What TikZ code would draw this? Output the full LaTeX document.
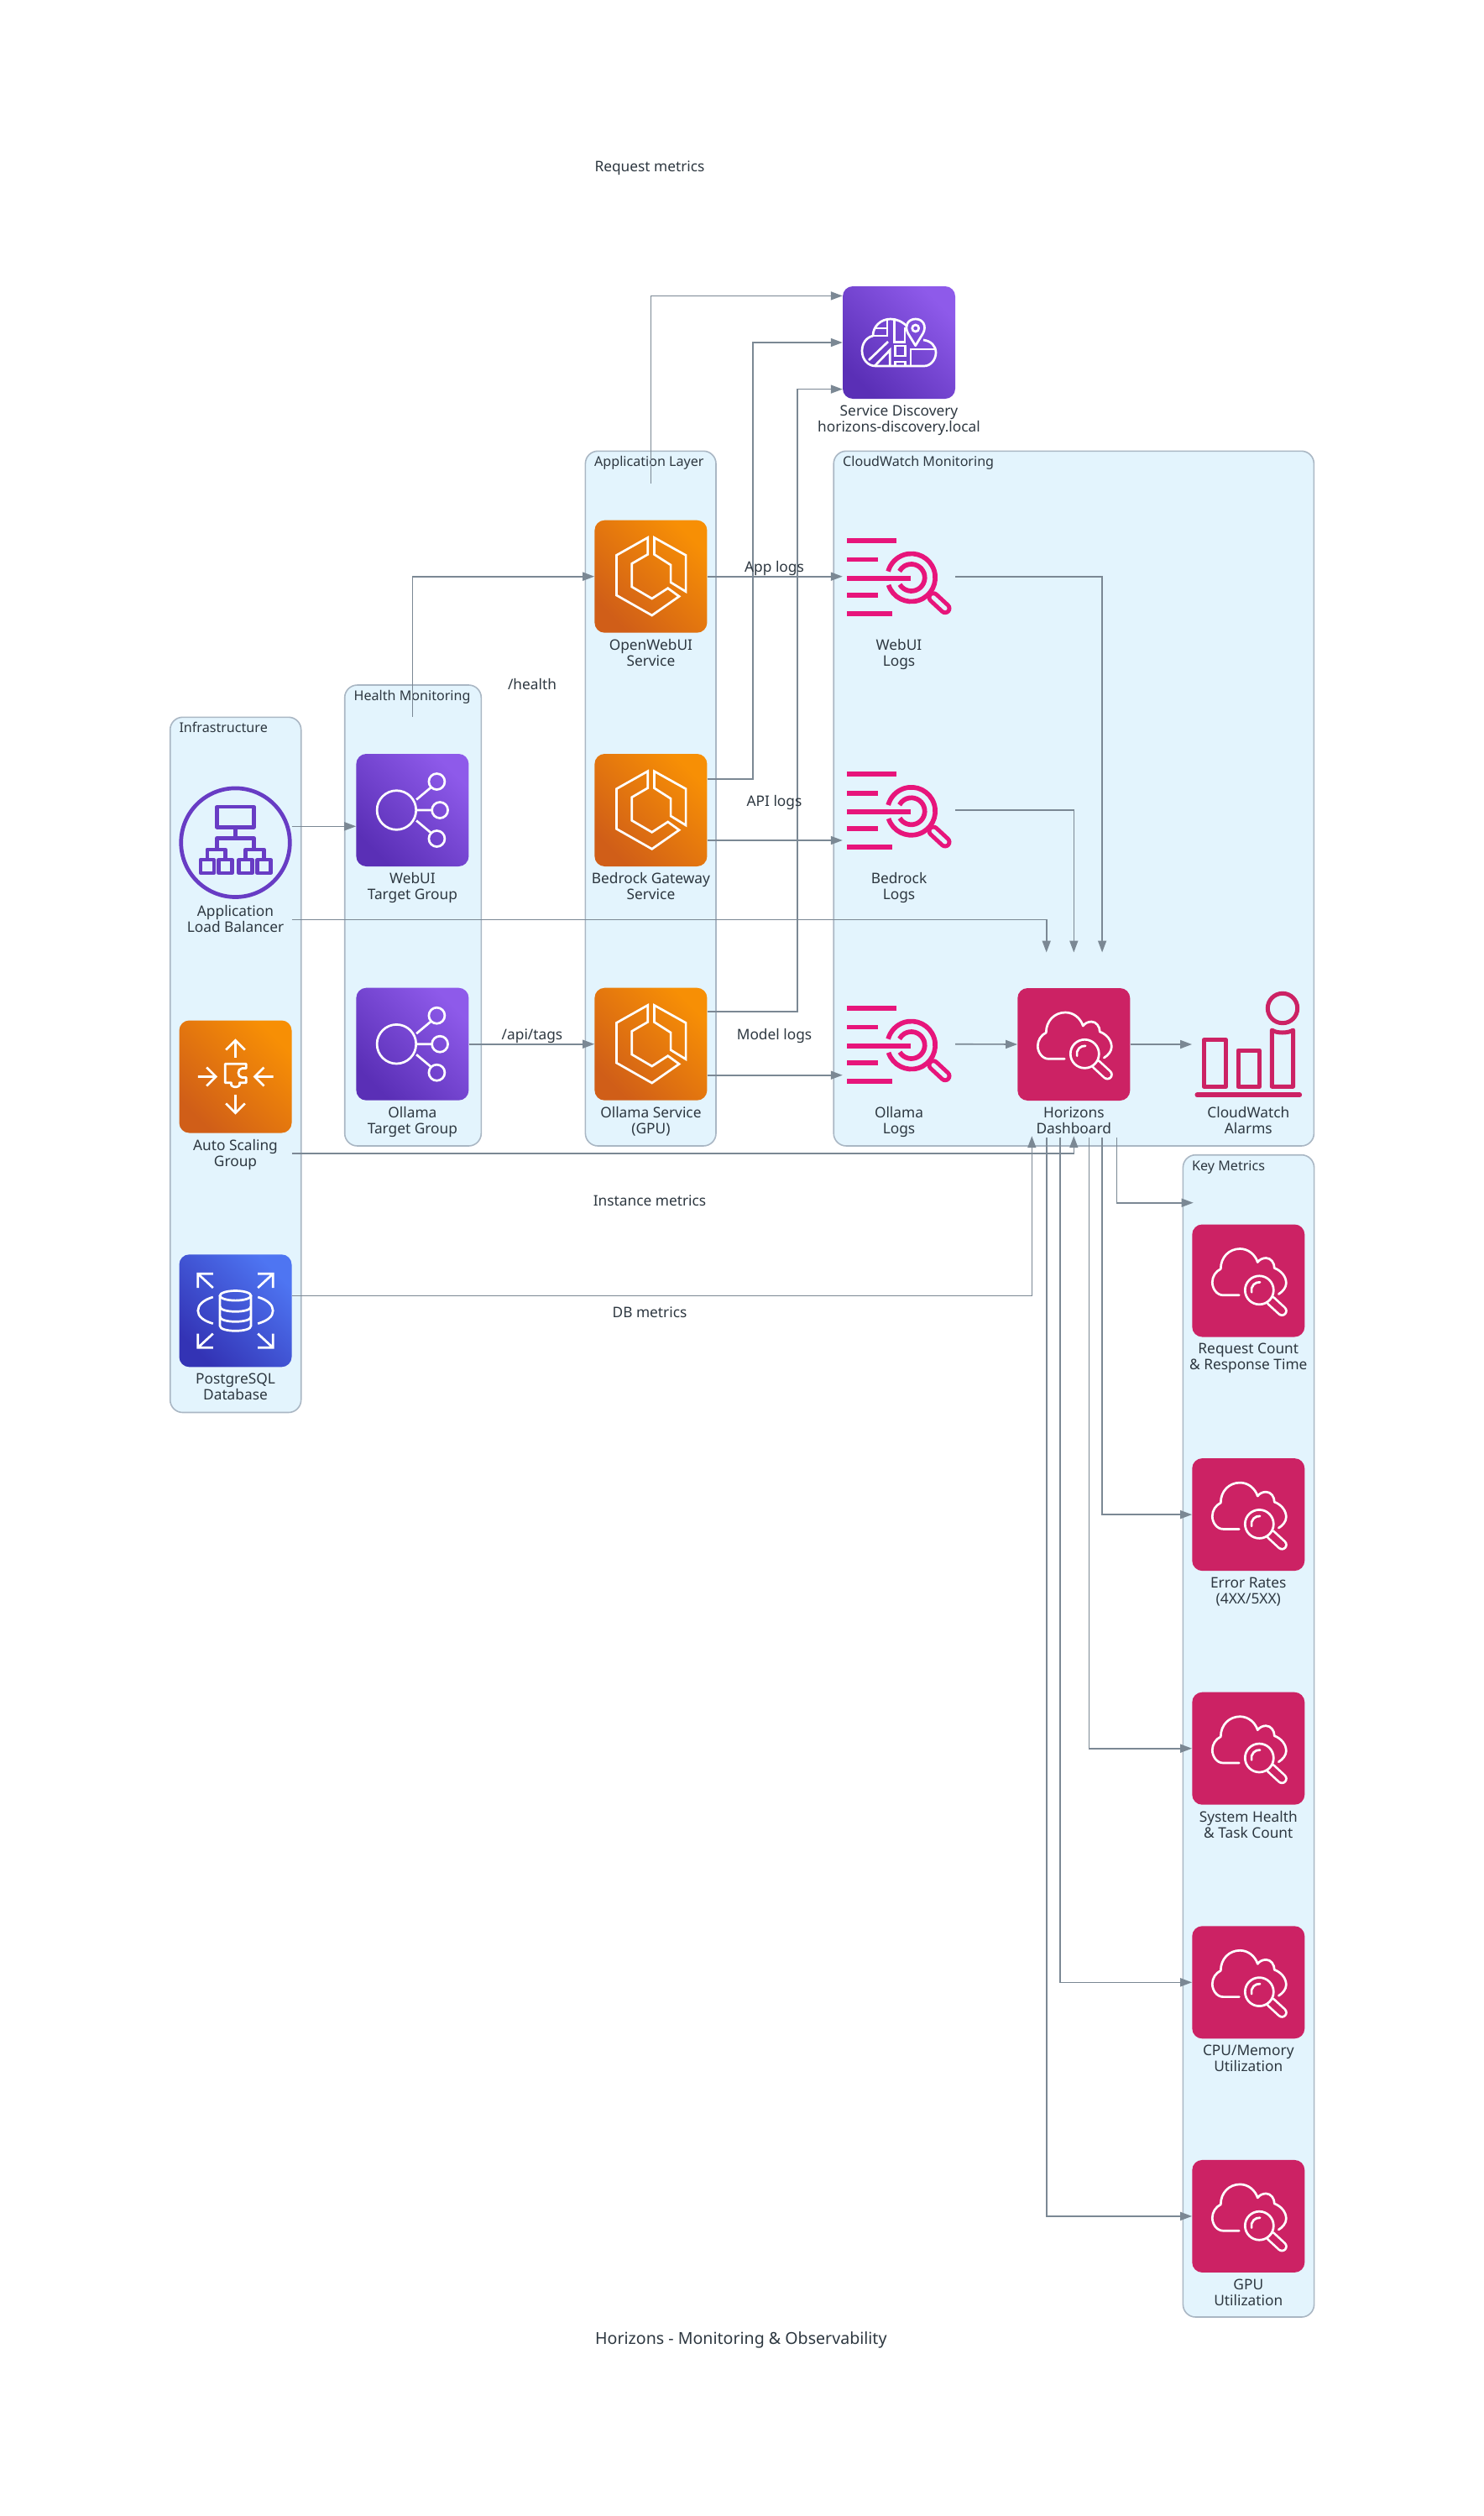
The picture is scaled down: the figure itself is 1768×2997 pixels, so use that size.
\documentclass[tikz,border=0pt]{standalone}
\usepackage{fontspec}
\setmainfont{Noto Sans}
\usetikzlibrary{positioning, arrows.meta, calc}
\definecolor{linkgray}{HTML}{7B8894}
\definecolor{groupfill}{HTML}{E3F4FD}
\definecolor{groupline}{HTML}{AAB7C4}
\definecolor{inktext}{HTML}{2D3740}
\definecolor{purpledark}{HTML}{5A2FB6}
\definecolor{purplelight}{HTML}{8E5AEA}
\definecolor{albpurple}{HTML}{683CC4}
\definecolor{orangedark}{HTML}{D05E18}
\definecolor{orangelight}{HTML}{F78F05}
\definecolor{bluedark}{HTML}{3333B5}
\definecolor{bluelight}{HTML}{4E75F2}
\definecolor{crimson}{HTML}{CC2264}
\definecolor{logpink}{HTML}{E7157B}
\tikzset{
>={Triangle[width=10pt,length=14pt]},
flow/.style={->, draw=linkgray, line width=1.6pt},
groupbox/.style={draw=groupline, fill=groupfill, line width=1.6pt, rounded corners=15pt},
grouptitle/.style={anchor=base west, inner sep=0pt, text=inktext, font=\fontsize{16.1}{19}\selectfont},
iconbox/.style={minimum size=134pt, inner sep=0pt, rounded corners=12pt},
purplebox/.style={iconbox, top color=purplelight, bottom color=purpledark, shading angle=-45},
orangebox/.style={iconbox, top color=orangelight, bottom color=orangedark, shading angle=-45},
bluebox/.style={iconbox, top color=bluelight, bottom color=bluedark, shading angle=-45},
crimsonbox/.style={iconbox, fill=crimson},
iconlabel/.style={inner sep=0pt, align=center, text=inktext, font=\fontsize{17.3}{19}\selectfont},
linklabel/.style={inner sep=0pt, text=inktext, font=\fontsize{17.3}{19}\selectfont},
glyph/.style={draw=white, line width=2.7pt, line join=miter},
pics/hexglyph/.style={code={
    \draw[glyph] (-3.7,-46.3) -- (-41,-25.3) -- (-41,22.3) -- (1.3,46.3) -- (33.7,23.7) -- (20.3,14) -- (1.3,26.3) -- (-22.7,12.3) -- (-22.7,-15.3) -- (-3.7,-26.3) -- cycle;
    \draw[glyph] (4,-46.3) -- (41.7,-25.3) -- (41.7,18) -- (23.7,7) -- (23.7,-13.7) -- (4,-26.3) -- cycle;
}},
pics/targetglyph/.style={code={
    \draw[glyph] (-19,0) circle (23.3pt);
    \draw[glyph] (29,-34) circle (9.5pt) (32.7,0) circle (9.5pt) (29,34) circle (9.5pt);
    \draw[glyph] (4.7,-12.5) -- (22,-27) (4.4,0) -- (23.2,0) (4.7,12.5) -- (22,27);
}},
pics/albglyph/.style={code={
    \draw[draw=albpurple, line width=4.7pt] (0,0) circle (64.8pt);
    \begin{scope}[draw=albpurple, line width=4.2pt, line join=round]
    \draw (-22,-42.7) rectangle (22,-18.3);
    \draw (0,-18.3) -- (0,-5.3) (-22,8) -- (-22,-5.3) -- (22,-5.3) -- (22,8);
    \draw (-33.7,20) -- (-33.7,8) -- (-12,8) -- (-12,20);
    \draw (12,20) -- (12,8) -- (34,8) -- (34,20);
    \draw (-41.7,20.3) rectangle (-25.7,36.3);
    \draw (-20,20.3) rectangle (-4,36.3);
    \draw (4,20.3) rectangle (20,36.3);
    \draw (26,20.3) rectangle (42,36.3);
    \end{scope}
}},
pics/scaleglyph/.style={code={
    \draw[glyph] (0,-22.7) -- (0,-43.3) (-11.3,-32) -- (0,-43.3) -- (11.3,-32);
    \draw[glyph] (0,21.7) -- (0,43.3) (-11.3,32) -- (0,43.3) -- (11.3,32);
    \draw[glyph] (-44.7,0) -- (-23.3,0) (-34.3,-11) -- (-23.3,0) -- (-34.3,11);
    \draw[glyph] (45,0) -- (23,0) (34,-11) -- (23,0) -- (34,11);
    \draw[glyph, line join=round] (-12.3,-15.3) -- (12.7,-15.3) -- (12.7,-10) -- (8,-10) .. controls (2,-10) and (2,1) .. (8,1) -- (12.7,1) -- (12.7,7.3) -- (5,7.3) .. controls (7,14) and (-7,14) .. (-5,7.3) -- (-12.3,7.3) -- cycle;
}},
pics/dbglyph/.style={code={
    \draw[glyph] (-44.7,-27.3) -- (-44.7,-44) -- (-26.7,-44) (-44.7,-44) -- (-26.7,-27.3);
    \draw[glyph] (44.7,-27.3) -- (44.7,-44) -- (26.7,-44) (44.7,-44) -- (26.7,-27.3);
    \draw[glyph] (-44.7,27.3) -- (-44.7,44) -- (-26.7,44) (-44.7,44) -- (-26.7,27.3);
    \draw[glyph] (44.7,27.3) -- (44.7,44) -- (26.7,44) (44.7,44) -- (26.7,27.3);
    \draw[glyph] (-26.7,-16.3) .. controls (-38,-13) and (-44.7,-7) .. (-44.7,0) .. controls (-44.7,7) and (-38,12) .. (-26.7,15.3);
    \draw[glyph] (26.7,-16.3) .. controls (38,-13) and (44.7,-7) .. (44.7,0) .. controls (44.7,7) and (38,12) .. (26.7,15.3);
    \draw[glyph] (0,-18) ellipse (18.5pt and 5.8pt);
    \draw[glyph] (-18.5,-18) -- (-18.5,18) .. controls (-18.5,26) and (18.5,26) .. (18.5,18) -- (18.5,-18);
    \draw[glyph] (-18.5,-5) .. controls (-18.5,3) and (18.5,3) .. (18.5,-5);
    \draw[glyph] (-18.5,7) .. controls (-18.5,15) and (18.5,15) .. (18.5,7);
}},
pics/mapglyph/.style={code={
    \draw[glyph, line join=round] (10,-19) .. controls (4,-25) and (-3,-28) .. (-10,-28) .. controls (-22,-28) and (-31,-19) .. (-31,-8) .. controls (-39,-6) and (-44,1) .. (-44,10) .. controls (-44,20) and (-37,28) .. (-28,28) -- (30,28) .. controls (38,28) and (44,20) .. (44,12) .. controls (44,4) and (38,-2) .. (29,-3);
    \draw[glyph] (-31,-8) -- (-14,-8) -- (-14,-27) (-28,-17) -- (-14,-17);
    \draw[glyph] (-5.3,-27) -- (-5.3,-0.5) -- (7,-0.5) -- (7,-18);
    \draw[glyph] (-36,21) -- (-13,-1);
    \draw[glyph] (-29,28) -- (-10.7,9) -- (-10.7,28);
    \draw[glyph] (-4.7,4) rectangle (7.3,16);
    \draw[glyph] (-4.7,28) -- (-4.7,23) -- (7.3,23) -- (7.3,28);
    \draw[glyph] (14,28) -- (14,8) -- (43,8);
    \draw[glyph, line join=round] (19.7,3.7) -- (10.7,-11) .. controls (6,-20) and (11,-28) .. (19.7,-28) .. controls (28.4,-28) and (33.4,-20) .. (28.7,-11) -- cycle;
    \draw[glyph] (19.7,-17) circle (4pt);
}},
pics/logglyph/.style={code={
    \begin{scope}[draw=logpink, line width=5.7pt]
    \draw (-61.7,-42.7) -- (-2.7,-42.7);
    \draw (-61.7,-20.3) -- (-24.7,-20.3);
    \draw (-61.7,2.3) -- (14.3,2.3);
    \draw (-61.7,22) -- (-24.7,22);
    \draw (-61.7,44.3) -- (-8,44.3);
    \draw (14.7,1.3) ++(198:28.5pt) arc[start angle=198, end angle=525, radius=28.5pt];
    \draw (14.7,1.3) ++(211:16pt) arc[start angle=211, end angle=512, radius=16pt];
    \end{scope}
    \draw[draw=logpink, line width=15pt, line cap=round] (41,25) -- (55,38);
    \draw[draw=groupfill, line width=5pt, line cap=round] (41,25) -- (55,38);
}},
pics/cloudglyph/.style={code={
    \draw[glyph, line join=round, line cap=round] (-11,17.3) -- (-30,17.3) .. controls (-38,17.3) and (-43,9) .. (-43,2) .. controls (-43,-5) and (-39,-11) .. (-33,-14) .. controls (-33,-28) and (-23,-38) .. (-10,-38) .. controls (0,-38) and (8,-31) .. (11,-22) .. controls (13,-25) and (17,-27) .. (21,-27) .. controls (27,-27) and (31,-21) .. (31,-15) .. controls (39,-12) and (45,-5) .. (45,3) .. controls (45,8) and (41,13) .. (36,16);
    \draw[draw=white, line width=13pt, line cap=round] (27,24) -- (40,36);
    \draw[draw=crimson, line width=7.6pt, line cap=round] (27,24) -- (40,36);
    \draw[glyph, fill=crimson] (13,11.3) circle (17pt);
    \draw[glyph, line cap=round] (13,11.3) ++(195:9.5pt) arc[start angle=195, end angle=85, radius=9.5pt];
}},
pics/alarmglyph/.style={code={
    \begin{scope}[draw=crimson, line width=5pt, line join=round]
    \draw (40.7,-43) circle (17.7pt);
    \draw (-53,-5.3) rectangle (-27,50.3);
    \draw (-12.3,7) rectangle (13,50.3);
    \draw (28,-17) .. controls (34,-13) and (47,-13) .. (53.3,-17) -- (53.3,50.3) -- (28,50.3) -- cycle;
    \draw[line width=5.7pt, line cap=round] (-61,60.3) -- (61,60.3);
    \end{scope}
}},
}

\begin{document}
\begin{tikzpicture}[x=1pt, y=-1pt]
    \useasboundingbox (0,0) rectangle (1768,2997);

    % Groups
    \draw[groupbox] (202.7,854.3) rectangle (358.7,1682.5);
    \draw[groupbox] (410.7,816) rectangle (573.3,1365);
    \draw[groupbox] (697.4,537.3) rectangle (853,1365);
    \draw[groupbox] (993.2,537.3) rectangle (1565.4,1365);
    \draw[groupbox] (1409.4,1375.7) rectangle (1565.6,2760);
    \node[grouptitle] (infratitle) at (213.3,872.5) {Infrastructure};
    \node[grouptitle] (healthtitle) at (421.5,834) {Health Monitoring};
    \node[grouptitle] (apptitle) at (708,555.5) {Application Layer};
    \node[grouptitle] (cwtitle) at (1004,555.5) {CloudWatch Monitoring};
    \node[grouptitle] (keytitle) at (1420,1394) {Key Metrics};

    % Infrastructure
    \node[iconbox] (alb) at (280.5,1003.7) {};
    \node[orangebox] (asg) at (280.5,1282.5) {};
    \node[bluebox] (rds) at (280.5,1561.3) {};
    \pic at (alb) {albglyph};
    \pic at (asg) {scaleglyph};
    \pic at (rds) {dbglyph};
    \node[iconlabel, below=7.4pt of alb] (alblabel) {Application\\Load Balancer};
    \node[iconlabel, below=7.4pt of asg] (asglabel) {Auto Scaling\\Group};
    \node[iconlabel, below=7.4pt of rds] (rdslabel) {PostgreSQL\\Database};

    % Target groups
    \node[purplebox] (webuitg) at (491.4,965) {};
    \node[purplebox] (ollamatg) at (491.4,1243.7) {};
    \pic at (webuitg) {targetglyph};
    \pic at (ollamatg) {targetglyph};
    \node[iconlabel, below=7.4pt of webuitg] (webuitglabel) {WebUI\\Target Group};
    \node[iconlabel, below=7.4pt of ollamatg] (ollamatglabel) {Ollama\\Target Group};

    % Services
    \node[orangebox] (openwebui) at (775.4,686.7) {};
    \node[orangebox] (bedrock) at (775.4,965) {};
    \node[orangebox] (ollamasvc) at (775.4,1243.7) {};
    \pic at (openwebui) {hexglyph};
    \pic at (bedrock) {hexglyph};
    \pic at (ollamasvc) {hexglyph};
    \node[iconlabel, below=7.4pt of openwebui] (openwebuilabel) {OpenWebUI\\Service};
    \node[iconlabel, below=7.4pt of bedrock] (bedrocklabel) {Bedrock Gateway\\Service};
    \node[iconlabel, below=7.4pt of ollamasvc] (ollamasvclabel) {Ollama Service\\(GPU)};

    % Service discovery
    \node[purplebox] (discovery) at (1071,408) {};
    \pic at (discovery) {mapglyph};
    \node[iconlabel, below=7.4pt of discovery] (discoverylabel) {Service Discovery\\horizons-discovery.local};

    % CloudWatch
    \node[iconbox] (webuilogs) at (1071,686.7) {};
    \node[iconbox] (bedrocklogs) at (1071,965) {};
    \node[iconbox] (ollamalogs) at (1071,1243.7) {};
    \node[crimsonbox] (dash) at (1279.3,1244) {};
    \node[iconbox] (alarms) at (1487.3,1244) {};
    \pic at (webuilogs) {logglyph};
    \pic at (bedrocklogs) {logglyph};
    \pic at (ollamalogs) {logglyph};
    \pic at (dash) {cloudglyph};
    \pic at (alarms) {alarmglyph};
    \node[iconlabel, below=7.4pt of webuilogs] (webuilogslabel) {WebUI\\Logs};
    \node[iconlabel, below=7.4pt of bedrocklogs] (bedrocklogslabel) {Bedrock\\Logs};
    \node[iconlabel, below=7.4pt of ollamalogs] (ollamalogslabel) {Ollama\\Logs};
    \node[iconlabel, below=7.4pt of dash] (dashlabel) {Horizons\\Dashboard};
    \node[iconlabel, below=7.4pt of alarms] (alarmslabel) {CloudWatch\\Alarms};

    % Key metrics
    \node[crimsonbox] (keyreq) at (1487.3,1525.5) {};
    \node[crimsonbox] (keyerr) at (1487.3,1804.1) {};
    \node[crimsonbox] (keyhealth) at (1487.3,2082.7) {};
    \node[crimsonbox] (keycpu) at (1487.3,2361.3) {};
    \node[crimsonbox] (keygpu) at (1487.3,2639.9) {};
    \pic at (keyreq) {cloudglyph};
    \pic at (keyerr) {cloudglyph};
    \pic at (keyhealth) {cloudglyph};
    \pic at (keycpu) {cloudglyph};
    \pic at (keygpu) {cloudglyph};
    \node[iconlabel, below=7.4pt of keyreq] (keyreqlabel) {Request Count\\\& Response Time};
    \node[iconlabel, below=7.4pt of keyerr] (keyerrlabel) {Error Rates\\(4XX/5XX)};
    \node[iconlabel, below=7.4pt of keyhealth] (keyhealthlabel) {System Health\\\& Task Count};
    \node[iconlabel, below=7.4pt of keycpu] (keycpulabel) {CPU/Memory\\Utilization};
    \node[iconlabel, below=7.4pt of keygpu] (keygpulabel) {GPU\\Utilization};

    % Free ends
    \coordinate (albout) at ([yshift=19.4pt]alb.east);
    \coordinate (albmetric) at ([yshift=-91.6pt]alb.east);
    \coordinate (asgmetric) at ([yshift=-91.2pt]asg.east);
    \coordinate (rdsmetric) at ([yshift=18pt]rds.east);
    \coordinate (webuitgup) at ([yshift=44pt]webuitg.north);
    \coordinate (openwebuiup) at ([yshift=44pt]openwebui.north);
    \coordinate (bedrockup) at ([yshift=37pt]bedrock.east);
    \coordinate (bedrocklog) at ([yshift=-36pt]bedrock.east);
    \coordinate (ollamaup) at ([yshift=38.7pt]ollamasvc.east);
    \coordinate (ollamalog) at ([yshift=-37pt]ollamasvc.east);
    \coordinate (discin1) at ([yshift=55.6pt]discovery.west);
    \coordinate (discin3) at ([yshift=-55.6pt]discovery.west);
    \coordinate (dashin1) at ([xshift=-32.6pt,yshift=42.3pt]dash.north);
    \coordinate (dashin2) at ([yshift=42.3pt]dash.north);
    \coordinate (dashin3) at ([xshift=33.8pt,yshift=42.3pt]dash.north);
    \coordinate (dashup1) at ([xshift=-50pt,yshift=-42pt]dash.south);
    \coordinate (dashup2) at ([yshift=-42pt]dash.south);
    \coordinate (dashgpu) at ([xshift=-32.6pt,yshift=-44pt]dash.south);
    \coordinate (dashcpu) at ([xshift=-16.6pt,yshift=-44pt]dash.south);
    \coordinate (dashhealth) at ([xshift=18pt,yshift=-44pt]dash.south);
    \coordinate (dasherr) at ([xshift=33.8pt,yshift=-44pt]dash.south);
    \coordinate (dashreq) at ([xshift=51pt,yshift=-44pt]dash.south);
    \coordinate (keyentry) at (1421.7,1432.7);

    % Links from infrastructure
    \draw[flow] (albout) -- (albout -| webuitg.west);
    \draw[flow] (albmetric) -| (dashin1);
    \draw[flow] (asgmetric) -| (dashup2);
    \draw[flow] (rdsmetric) -| (dashup1);

    % Links from target groups
    \draw[flow] (webuitgup) |- (openwebui.west);
    \draw[flow] (ollamatg.east) -- (ollamasvc.west);

    % Links from services
    \draw[flow] (openwebuiup) |- (discin1);
    \draw[flow] (bedrockup) -- ++(54.4,0) |- (discovery.west);
    \draw[flow] (ollamaup) -- ++(107.6,0) |- (discin3);
    \draw[flow] (openwebui.east) -- (webuilogs.west);
    \draw[flow] (bedrocklog) -- (bedrocklog -| bedrocklogs.west);
    \draw[flow] (ollamalog) -- (ollamalog -| ollamalogs.west);

    % Links from logs
    \draw[flow] (webuilogs.east) -| (dashin3);
    \draw[flow] (bedrocklogs.east) -| (dashin2);
    \draw[flow] (ollamalogs.east) -- (dash.west);

    % Links from dashboard
    \draw[flow] (dash.east) -- (alarms.west);
    \draw[flow] (dashreq) |- (keyentry);
    \draw[flow] (dasherr) |- (keyerr.west);
    \draw[flow] (dashhealth) |- (keyhealth.west);
    \draw[flow] (dashcpu) |- (keycpu.west);
    \draw[flow] (dashgpu) |- (keygpu.west);

    % Link labels
    \node[linklabel] (requestlabel) at (774,200.5) {Request metrics};
    \node[linklabel] (healthlabel) at (634,815) {/health};
    \node[linklabel] (tagslabel) at (634,1234) {/api/tags};
    \node[linklabel] (applogslabel) at (922.5,676.5) {App logs};
    \node[linklabel] (apilogslabel) at (922.5,955.5) {API logs};
    \node[linklabel] (modellogslabel) at (922.5,1234) {Model logs};
    \node[linklabel] (instancelabel) at (774,1430.5) {Instance metrics};
    \node[linklabel] (dblabel) at (774,1563.5) {DB metrics};

    \node[anchor=west, inner sep=0pt, text=inktext, font=\fontsize{19.6}{24}\selectfont] (title) at (709,2787) {Horizons - Monitoring \& Observability};
\end{tikzpicture}
\end{document}
